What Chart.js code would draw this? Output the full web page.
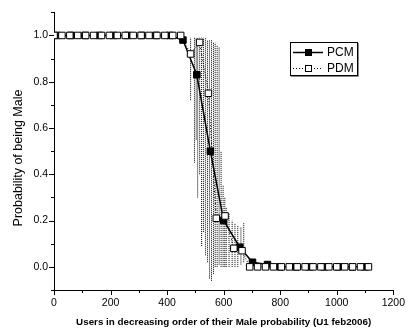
<!DOCTYPE html>
<html>
<head>
<meta charset="utf-8">
<script src="https://cdn.jsdelivr.net/npm/chart.js@4"></script>
<style>
html, body { margin: 0; padding: 0; background: #fff; }
#wrap { width: 412px; height: 329px; }
</style>
</head>
<body>
<div id="wrap"><canvas id="myChart"></canvas></div>
<script>
// PCM (filled squares, solid line)
var pcmX = [10, 60, 110, 160, 210, 260, 310, 360, 410, 456, 505, 553, 600, 657, 702, 755, 800, 855, 905, 955, 1005, 1055, 1100];
var pcmY = [1.0, 1.0, 1.0, 1.0, 1.0, 1.0, 1.0, 1.0, 1.0, 0.98, 0.83, 0.50, 0.20, 0.085, 0.02, 0.01, 0.0, 0.0, 0.0, 0.0, 0.0, 0.0, 0.0];

// PDM (open squares, dotted line)
var pdmX = [0, 28, 56, 84, 112, 140, 168, 196, 224, 252, 280, 308, 336, 364, 392, 420, 448, 483, 515, 546, 574, 605, 636, 665, 692, 720, 748, 776, 804, 832, 860, 888, 916, 944, 972, 1000, 1028, 1056, 1084, 1112];
var pdmY = [1.0, 1.0, 1.0, 1.0, 1.0, 1.0, 1.0, 1.0, 1.0, 1.0, 1.0, 1.0, 1.0, 1.0, 1.0, 1.0, 1.0, 0.92, 0.97, 0.75, 0.21, 0.22, 0.08, 0.07, 0.0, 0.0, 0.0, 0.0, 0.0, 0.0, 0.0, 0.0, 0.0, 0.0, 0.0, 0.0, 0.0, 0.0, 0.0, 0.0];

// dotted spread bars
var errX    = [483, 497, 503, 508, 515, 522, 529, 536, 543, 550, 557, 564, 570, 577, 584, 591, 598, 604, 609, 619, 630, 640, 650, 661, 671];
var errLow  = [0.72, 0.45, 0.55, 0.30, 0.40, 0.09, 0.15, 0.05, 0.02, -0.05, -0.06, -0.03, 0.0, 0.0, 0.01, 0.0, 0.0, 0.0, 0.0, 0.0, 0.0, 0.0, 0.0, 0.01, 0.02];
var errHigh = [0.99, 0.99, 0.99, 0.99, 0.99, 0.99, 0.99, 0.99, 0.98, 0.98, 0.98, 0.97, 0.97, 0.96, 0.95, 0.50, 0.35, 0.30, 0.26, 0.23, 0.20, 0.19, 0.18, 0.17, 0.19];

var xMajor = [0, 200, 400, 600, 800, 1000, 1200];
var xMinor = [100, 300, 500, 700, 900, 1100];
var yMajor = [0.0, 0.2, 0.4, 0.6, 0.8, 1.0];
var yMinor = [-0.1, 0.1, 0.3, 0.5, 0.7, 0.9, 1.1];

var FONT = "'Liberation Sans', Arial, sans-serif";

function pts(xs, ys) {
    return xs.map(function (x, i) { return { x: x, y: ys[i] }; });
}

var datasets = [];
errX.forEach(function (x, i) {
    datasets.push({
        data: [{ x: x, y: errLow[i] }, { x: x, y: errHigh[i] }],
        borderColor: '#000',
        borderWidth: 1,
        borderDash: [1, 1],
        pointRadius: 0,
        order: 3
    });
});
datasets.push({
    label: 'PCM',
    data: pts(pcmX, pcmY),
    borderColor: '#000',
    borderWidth: 1.5,
    pointStyle: 'rect',
    pointRadius: 4.6,
    pointBackgroundColor: '#000',
    pointBorderColor: '#000',
    pointBorderWidth: 1,
    order: 2
});
datasets.push({
    label: 'PDM',
    data: pts(pdmX, pdmY),
    borderColor: '#000',
    borderWidth: 1,
    borderDash: [1, 2],
    pointStyle: 'rect',
    pointRadius: 4.6,
    pointBackgroundColor: '#fff',
    pointBorderColor: '#000',
    pointBorderWidth: 1,
    order: 1
});

var extras = {
    id: 'extras',
    afterDraw: function (chart) {
        var ctx = chart.ctx, xs = chart.scales.x, ys = chart.scales.y;
        var left = chart.chartArea.left, bottom = chart.chartArea.bottom;
        ctx.save();
        ctx.strokeStyle = '#000';
        ctx.lineWidth = 1;
        ctx.setLineDash([]);
        ctx.beginPath();
        yMajor.forEach(function (v) {
            var p = Math.round(ys.getPixelForValue(v)) + 0.5;
            ctx.moveTo(left - 5, p); ctx.lineTo(left, p);
        });
        yMinor.forEach(function (v) {
            var p = Math.round(ys.getPixelForValue(v)) + 0.5;
            ctx.moveTo(left - 3, p); ctx.lineTo(left, p);
        });
        xMajor.forEach(function (v) {
            var p = Math.round(xs.getPixelForValue(v)) + 0.5;
            ctx.moveTo(p, bottom); ctx.lineTo(p, bottom + 5);
        });
        xMinor.forEach(function (v) {
            var p = Math.round(xs.getPixelForValue(v)) + 0.5;
            ctx.moveTo(p, bottom); ctx.lineTo(p, bottom + 3);
        });
        ctx.stroke();

        // y title
        ctx.fillStyle = '#000';
        ctx.font = '12.5px ' + FONT;
        ctx.textAlign = 'center';
        ctx.textBaseline = 'middle';
        ctx.translate(19, 158);
        ctx.rotate(-Math.PI / 2);
        ctx.fillText('Probability of being Male', 0, 0);
        ctx.restore();

        // legend box
        ctx.save();
        ctx.fillStyle = '#fff';
        ctx.fillRect(290, 42, 67, 33);
        ctx.strokeStyle = '#000';
        ctx.lineWidth = 1;
        ctx.strokeRect(290.5, 42.5, 67, 33);
        ctx.strokeStyle = '#888';
        ctx.beginPath();
        ctx.moveTo(358.5, 43); ctx.lineTo(358.5, 76.5); ctx.lineTo(291, 76.5);
        ctx.stroke();

        ctx.strokeStyle = '#000';
        ctx.lineWidth = 1.5;
        ctx.beginPath();
        ctx.moveTo(293, 52.5); ctx.lineTo(323, 52.5);
        ctx.stroke();
        ctx.fillStyle = '#000';
        ctx.fillRect(305, 49, 7, 7);

        ctx.lineWidth = 1;
        ctx.setLineDash([1, 2]);
        ctx.beginPath();
        ctx.moveTo(293, 68.5); ctx.lineTo(323, 68.5);
        ctx.stroke();
        ctx.setLineDash([]);
        ctx.fillStyle = '#fff';
        ctx.fillRect(305, 65, 7, 7);
        ctx.strokeRect(305.5, 65.5, 6, 6);

        ctx.fillStyle = '#000';
        ctx.font = '12px ' + FONT;
        ctx.textAlign = 'left';
        ctx.textBaseline = 'middle';
        ctx.fillText('PCM', 327, 53);
        ctx.fillText('PDM', 327, 69);
        ctx.restore();
    }
};

var ctx1 = document.getElementById('myChart').getContext('2d');
var myChart = new Chart(ctx1, {
    type: 'line',
    data: { datasets: datasets },
    options: {
        responsive: true,
        maintainAspectRatio: false,
        animation: false,
        layout: { padding: { left: 0, top: 9, right: 13, bottom: 0 } },
        scales: {
            x: {
                type: 'linear',
                min: 0,
                max: 1200,
                afterBuildTicks: function (scale) {
                    scale.ticks = xMajor.map(function (v) { return { value: v }; });
                },
                afterFit: function (scale) { scale.height = 39; },
                grid: { display: false, drawTicks: false },
                border: { display: true, color: '#000', width: 1 },
                ticks: {
                    padding: 7,
                    maxRotation: 0,
                    color: '#000',
                    font: { family: FONT, size: 10.5 },
                    callback: function (v) { return String(v); }
                },
                title: {
                    display: true,
                    text: 'Users in decreasing order of their Male probability (U1 feb2006)',
                    color: '#000',
                    font: { family: FONT, size: 9.8, weight: 'bold' },
                    padding: { top: 0, bottom: 1 }
                }
            },
            y: {
                type: 'linear',
                min: -0.1,
                max: 1.1,
                afterBuildTicks: function (scale) {
                    scale.ticks = yMajor.map(function (v) { return { value: v }; });
                },
                afterFit: function (scale) { scale.width = 54; },
                grid: { display: false, drawTicks: false },
                border: { display: true, color: '#000', width: 1 },
                ticks: {
                    padding: 6,
                    color: '#000',
                    font: { family: FONT, size: 10.5 },
                    callback: function (v) { return Number(v).toFixed(1); }
                }
            }
        },
        plugins: {
            legend: { display: false },
            tooltip: { enabled: false }
        }
    },
    plugins: [extras]
});
</script>
</body>
</html>
